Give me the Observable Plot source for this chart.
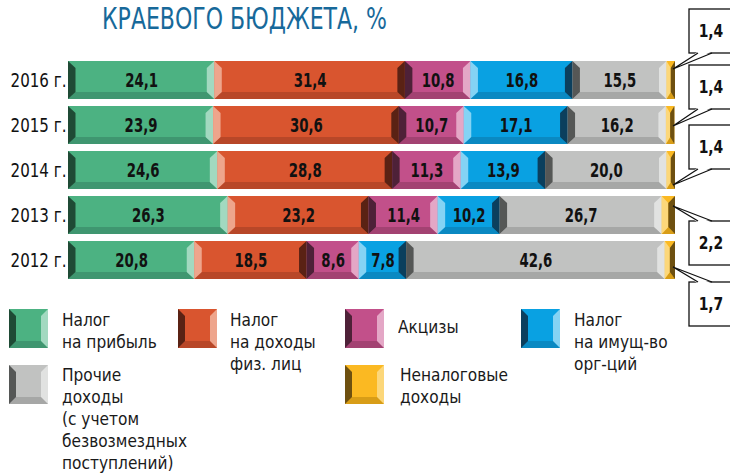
<!DOCTYPE html>
<html>
<head>
<meta charset="utf-8">
<script src="https://cdn.jsdelivr.net/npm/d3@7"></script>
<script src="https://cdn.jsdelivr.net/npm/@observablehq/plot@0.6"></script>
<style>
  html, body { margin: 0; padding: 0; background: #fff; }
  #wrap { position: relative; width: 730px; height: 476px; overflow: hidden;
          font-family: "Liberation Sans Narrow", "DejaVu Sans Condensed", "Roboto", sans-serif; color: #1a1a1a; }
  #title { position: absolute; left: 102px; top: 3px; font-size: 31px; line-height: 31px; color: #17699a;
           white-space: nowrap; transform-origin: 0 0; }
  #chart { position: absolute; left: 0; top: 0; }
  .sw { position: absolute; width: 25px; height: 25px; border-style: solid; border-width: 7px; }
  .lbl { position: absolute; font-size: 18px; line-height: 22px; white-space: nowrap; color: #1a1a1a;
         transform-origin: 0 0; }
</style>
</head>
<body>
<div id="wrap">
  <div id="title">КРАЕВОГО БЮДЖЕТА, %</div>
  <div id="chart"></div>
  <div id="legend"></div>
</div>
<script>
// ---------- data ----------
const years = ["2016 г.", "2015 г.", "2014 г.", "2013 г.", "2012 г."];
const categories = [
  "Налог на прибыль",
  "Налог на доходы физ. лиц",
  "Акцизы",
  "Налог на имущ-во орг-ций",
  "Прочие доходы (с учетом безвозмездных поступлений)",
  "Неналоговые доходы"
];
const legendLines = [
  ["Налог", "на прибыль"],
  ["Налог", "на доходы", "физ. лиц"],
  ["Акцизы"],
  ["Налог", "на имущ-во", "орг-ций"],
  ["Прочие", "доходы", "(с учетом", "безвозмездных", "поступлений)"],
  ["Неналоговые", "доходы"]
];
const profitTax         = [24.1, 23.9, 24.6, 26.3, 20.8];
const personalIncomeTax = [31.4, 30.6, 28.8, 23.2, 18.5];
const excise            = [10.8, 10.7, 11.3, 11.4, 8.6];
const propertyTax       = [16.8, 17.1, 13.9, 10.2, 7.8];
const otherIncome       = [15.5, 16.2, 20.0, 26.7, 42.6];
const nonTaxIncome      = [1.4, 1.4, 1.4, 2.2, 1.7];
const series = [profitTax, personalIncomeTax, excise, propertyTax, otherIncome, nonTaxIncome];

// ---------- styles ----------
const mainColors   = ["#4cb282", "#d9552f", "#c2508a", "#09a1e2", "#c1c2c1", "#fbb922"];
const lightColors  = ["#a2d9c0", "#eea58c", "#e4a7c6", "#84d3f4", "#e1e2e1", "#fcd77a"];
const darkColors   = ["#1f4a35", "#5a2214", "#4e2138", "#0b3f5d", "#555756", "#6e5010"];
const bottomColors = ["#3f9670", "#b84728", "#a34272", "#0a89c2", "#a6a7a6", "#d89d17"];

const fmt = v => v.toFixed(1).replace(".", ",");

// table built from the arrays
const rows = [];
years.forEach((year, i) => {
  let acc = 0;
  series.forEach((s, k) => {
    rows.push({year, i, k, cat: categories[k], value: s[i], x1: acc, x2: acc + s[i]});
    acc += s[i];
  });
});

// bevels drawn through the plot's scales
function bevelMark(index, scales) {
  const x = scales.x, y = scales.y, bw = y.bandwidth();
  const g = d3.create("svg:g");
  const poly = (pts, fill) => g.append("polygon").attr("points", pts.map(p => p.join(",")).join(" ")).attr("fill", fill);
  for (const d of rows) {
    const xa = x(d.x1), xb = x(d.x2), y0 = y(d.year), y1 = y0 + bw;
    const b = Math.min(7.5, (xb - xa) / 2), h = 7;
    const leftCol = d.k % 2 === 0 ? darkColors[d.k] : lightColors[d.k];
    const rightCol = d.k % 2 === 0 ? lightColors[d.k] : darkColors[d.k];
    poly([[xa, y1], [xa + b, y1 - h], [xb - b, y1 - h], [xb, y1]], bottomColors[d.k]);
    poly([[xa, y0], [xa + b, y0 + h], [xa + b, y1 - h], [xa, y1]], leftCol);
    poly([[xb, y0], [xb - b, y0 + h], [xb - b, y1 - h], [xb, y1]], rightCol);
  }
  return g.node();
}

// callout boxes for the last (small) segment
const calloutEdge  = [-8, 3, 18, 25, 41];
const calloutTip   = [8, 20, 34, 10, 26];
const calloutBelow = [false, false, false, true, true];
function calloutMark(index, scales) {
  const x = scales.x, y = scales.y;
  const g = d3.create("svg:g");
  const xEnd = x(100);
  const left = xEnd + 14, bw = 48, bh = 44;
  years.forEach((year, i) => {
    const y0 = y(year);
    const below = calloutBelow[i];
    const edge = y0 + calloutEdge[i];
    const top = below ? edge : edge - bh;
    const tipX = xEnd - 2, tipY = y0 + calloutTip[i];
    const ax = left + 9, bx = left + 23;
    g.append("rect").attr("x", left).attr("y", top).attr("width", bw).attr("height", bh)
      .attr("fill", "#fff").attr("stroke", "#111").attr("stroke-width", 1.3);
    const inset = below ? 1.5 : -1.5;
    g.append("polygon").attr("points", `${ax},${edge + inset} ${tipX},${tipY} ${bx},${edge + inset}`).attr("fill", "#fff");
    g.append("polyline").attr("points", `${ax},${edge} ${tipX},${tipY} ${bx},${edge}`)
      .attr("fill", "none").attr("stroke", "#111").attr("stroke-width", 1.3);
    g.append("text").attr("class", "callout").attr("x", left + 22).attr("y", top + bh / 2).attr("dy", "0.36em")
      .attr("text-anchor", "middle").attr("font-weight", "bold").attr("font-size", 18).attr("fill", "#111")
      .text(fmt(nonTaxIncome[i]));
  });
  return g.node();
}

const chart = Plot.plot({
  width: 730,
  height: 340,
  marginLeft: 68,
  marginRight: 55,
  marginTop: 56.4,
  marginBottom: 57.4,
  x: {domain: [0, 100], axis: null},
  y: {domain: years, paddingInner: 0.16, paddingOuter: 0.08, label: null},
  color: {domain: categories, range: mainColors},
  style: {
    fontFamily: '"Liberation Sans Narrow", "DejaVu Sans Condensed", "Roboto", sans-serif',
    background: "transparent",
    color: "#111",
    overflow: "visible"
  },
  marks: [
    Plot.barX(rows, {x1: "x1", x2: "x2", y: "year", fill: "cat"}),
    bevelMark,
    Plot.text(rows.filter(d => d.k < 5), {
      x: d => (d.x1 + d.x2) / 2, y: "year", text: d => fmt(d.value),
      fontWeight: "bold", fontSize: 20, fill: "#111"
    }),
    Plot.axisY({tickSize: 0, tickPadding: 2, fontSize: 20, label: null}),
    calloutMark
  ]
});
document.getElementById("chart").appendChild(chart);

// condense the texts horizontally (narrow typeface of the original)
function squeeze(sel, s) {
  sel.each(function() {
    const tr = this.getAttribute("transform") || "";
    const x = +(this.getAttribute("x") || 0);
    this.setAttribute("transform", `${tr} translate(${x},0) scale(${s},1) translate(${-x},0)`);
  });
}
const svgSel = d3.select(chart);
squeeze(svgSel.selectAll('g[aria-label="y-axis tick label"] text'), 0.84);
squeeze(svgSel.selectAll('g[aria-label="text"] text'), 0.74);
squeeze(svgSel.selectAll('text.callout'), 0.86);

// title fit
const t = document.getElementById("title");
const tw = t.getBoundingClientRect().width;
t.style.transform = `scaleX(${285 / tw})`;

// legend
const legend = document.getElementById("legend");
const legendPos = [
  {sx: 9, sy: 309, tx: 62, ty: 309},
  {sx: 178, sy: 309, tx: 230, ty: 309},
  {sx: 345, sy: 309, tx: 398, ty: 316},
  {sx: 521, sy: 309, tx: 574, ty: 309},
  {sx: 9, sy: 365, tx: 62, ty: 364},
  {sx: 345, sy: 365, tx: 400, ty: 364}
];
categories.forEach((c, k) => {
  const p = legendPos[k];
  const sw = document.createElement("div");
  sw.className = "sw";
  sw.style.left = p.sx + "px";
  sw.style.top = p.sy + "px";
  sw.style.background = mainColors[k];
  sw.style.borderColor = `${mainColors[k]} ${lightColors[k]} ${bottomColors[k]} ${darkColors[k]}`;
  legend.appendChild(sw);
  const lb = document.createElement("div");
  lb.className = "lbl";
  lb.style.left = p.tx + "px";
  lb.style.top = p.ty + "px";
  lb.style.transform = "scaleX(0.95)";
  lb.innerHTML = legendLines[k].join("<br>");
  legend.appendChild(lb);
});
</script>
</body>
</html>
